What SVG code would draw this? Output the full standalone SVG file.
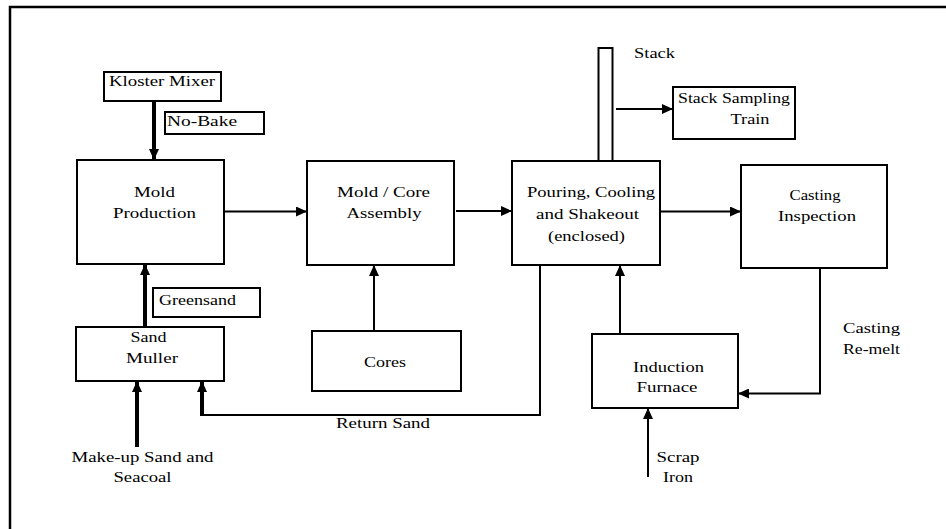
<svg xmlns="http://www.w3.org/2000/svg" width="946" height="529" viewBox="0 0 946 529">
<defs>
<style>
.box{fill:#fff;stroke:#000;stroke-width:2}
.ln{fill:none;stroke:#000;stroke-width:2}
.thk{fill:none;stroke:#000;stroke-width:4}
.t{font-family:'Liberation Serif','DejaVu Serif',serif;font-size:15px;fill:#000}
</style>
<marker id="ah" markerUnits="userSpaceOnUse" markerWidth="11" markerHeight="10" refX="11" refY="5" orient="auto"><path d="M0,0 L11,5 L0,10 z" fill="#000"/></marker>
</defs>
<rect width="946" height="529" fill="#fff"/>
<rect x="10" y="7" width="950" height="540" fill="none" stroke="#000" stroke-width="2.5"/>
<g id="connectors">
<line class="thk" x1="154" y1="101" x2="154" y2="160" marker-end="url(#ah)"/>
<line class="ln" x1="224" y1="211.5" x2="307" y2="211.5" marker-end="url(#ah)"/>
<line class="ln" x1="456" y1="211" x2="512" y2="211" marker-end="url(#ah)"/>
<line class="ln" x1="660" y1="211.5" x2="741" y2="211.5" marker-end="url(#ah)"/>
<line class="ln" x1="616" y1="109" x2="673" y2="109" marker-end="url(#ah)"/>
<line class="ln" x1="374" y1="331" x2="374" y2="265" marker-end="url(#ah)"/>
<line class="thk" x1="145" y1="327" x2="145" y2="264" marker-end="url(#ah)"/>
<line class="thk" x1="137" y1="447" x2="137" y2="381" marker-end="url(#ah)"/>
<polyline class="ln" points="540,265 540,415 201,415"/>
<line class="thk" x1="202" y1="416" x2="202" y2="381" marker-end="url(#ah)"/>
<line class="ln" x1="620" y1="334" x2="620" y2="265" marker-end="url(#ah)"/>
<polyline class="ln" points="820,268 820,393.5 738,393.5" marker-end="url(#ah)"/>
<line class="ln" x1="648" y1="477" x2="648" y2="408" marker-end="url(#ah)"/>
</g>
<g class="t">
<g id="kloster"><rect class="box" x="104" y="72" width="117" height="29"/><text x="162" y="86" text-anchor="middle" textLength="106" lengthAdjust="spacingAndGlyphs">Kloster Mixer</text></g>
<g id="nobake"><rect class="box" x="165" y="112" width="99" height="22"/><text x="167" y="126" textLength="70" lengthAdjust="spacingAndGlyphs">No-Bake</text></g>
<g id="mold"><rect class="box" x="77" y="160" width="147" height="104"/><text x="154.5" y="197" text-anchor="middle" textLength="41" lengthAdjust="spacingAndGlyphs">Mold</text><text x="154.5" y="218" text-anchor="middle" textLength="83" lengthAdjust="spacingAndGlyphs">Production</text></g>
<g id="greensand"><rect class="box" x="153" y="288" width="107" height="29"/><text x="159" y="305" textLength="77" lengthAdjust="spacingAndGlyphs">Greensand</text></g>
<g id="muller"><rect class="box" x="76" y="327" width="148" height="54"/><text x="148.5" y="341.5" text-anchor="middle" textLength="36" lengthAdjust="spacingAndGlyphs">Sand</text><text x="152" y="363" text-anchor="middle" textLength="52" lengthAdjust="spacingAndGlyphs">Muller</text></g>
<g id="makeup"><text x="142.5" y="461.5" text-anchor="middle" textLength="142" lengthAdjust="spacingAndGlyphs">Make-up Sand and</text><text x="142.5" y="482" text-anchor="middle" textLength="58" lengthAdjust="spacingAndGlyphs">Seacoal</text></g>
<g id="assembly"><rect class="box" x="307" y="161" width="147" height="104"/><text x="383.5" y="197" text-anchor="middle" textLength="93" lengthAdjust="spacingAndGlyphs">Mold / Core</text><text x="384" y="218" text-anchor="middle" textLength="75" lengthAdjust="spacingAndGlyphs">Assembly</text></g>
<g id="cores"><rect class="box" x="312" y="331" width="149" height="60"/><text x="385" y="366.5" text-anchor="middle" textLength="42" lengthAdjust="spacingAndGlyphs">Cores</text></g>
<g id="stack"><rect class="box" x="598.5" y="48" width="14" height="113"/><text x="634" y="58" textLength="41" lengthAdjust="spacingAndGlyphs">Stack</text></g>
<g id="sampling"><rect class="box" x="673" y="87" width="122" height="52"/><text x="734" y="103" text-anchor="middle" textLength="112" lengthAdjust="spacingAndGlyphs">Stack Sampling</text><text x="750" y="124" text-anchor="middle" textLength="39" lengthAdjust="spacingAndGlyphs">Train</text></g>
<g id="pouring"><rect class="box" x="512" y="161" width="148" height="104"/><text x="591" y="197" text-anchor="middle" textLength="128" lengthAdjust="spacingAndGlyphs">Pouring, Cooling</text><text x="587.5" y="218.5" text-anchor="middle" textLength="103" lengthAdjust="spacingAndGlyphs">and Shakeout</text><text x="586.5" y="240.5" text-anchor="middle" textLength="77" lengthAdjust="spacingAndGlyphs">(enclosed)</text></g>
<g id="inspection"><rect class="box" x="741" y="165" width="146" height="103"/><text x="815" y="200" text-anchor="middle" textLength="51" lengthAdjust="spacingAndGlyphs">Casting</text><text x="817" y="221" text-anchor="middle" textLength="78" lengthAdjust="spacingAndGlyphs">Inspection</text></g>
<g id="remelt"><text x="843" y="333" textLength="57" lengthAdjust="spacingAndGlyphs">Casting</text><text x="843" y="354" textLength="57" lengthAdjust="spacingAndGlyphs">Re-melt</text></g>
<g id="furnace"><rect class="box" x="592" y="334" width="146" height="74"/><text x="668.5" y="371.5" text-anchor="middle" textLength="71" lengthAdjust="spacingAndGlyphs">Induction</text><text x="667" y="392" text-anchor="middle" textLength="61" lengthAdjust="spacingAndGlyphs">Furnace</text></g>
<g id="scrap"><text x="678" y="461.5" text-anchor="middle" textLength="43" lengthAdjust="spacingAndGlyphs">Scrap</text><text x="678" y="482" text-anchor="middle" textLength="30" lengthAdjust="spacingAndGlyphs">Iron</text></g>
<g id="returnsand"><text x="336" y="427.5" textLength="94" lengthAdjust="spacingAndGlyphs">Return Sand</text></g>
</g>
</svg>
